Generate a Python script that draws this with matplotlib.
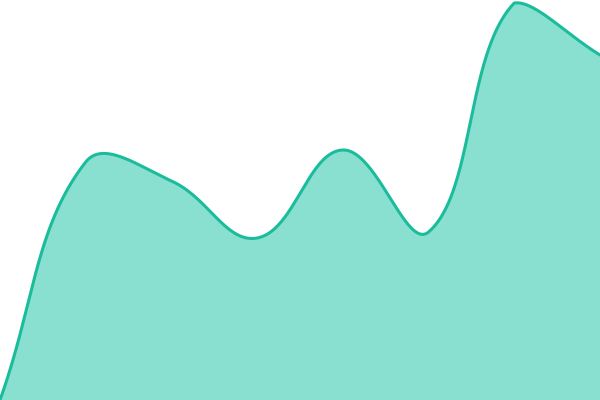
import numpy as np
import matplotlib
matplotlib.use("Agg")
import matplotlib.pyplot as plt

# data
values = [0, 238, 219, 162, 250, 168, 397, 345]
y_max = 400

line_color = "#1abc9c"
fill_color = "#8ae0d0"
tension = 0.4

W, H = 600, 400


def spline_path(vals, t, n=80):
    N = len(vals)
    # work in pixel space so the smoothing matches the rendered aspect
    px = np.array([i * W / (N - 1) for i in range(N)], float)
    py = np.array([v * H / y_max for v in vals], float)
    P = np.stack([px, py], axis=1)
    cp_prev = np.zeros_like(P)
    cp_next = np.zeros_like(P)
    for i in range(N):
        p0 = P[max(i - 1, 0)]
        p1 = P[i]
        p2 = P[min(i + 1, N - 1)]
        d01 = np.hypot(*(p1 - p0))
        d12 = np.hypot(*(p2 - p1))
        s01 = d01 / (d01 + d12) if d01 + d12 else 0
        s12 = d12 / (d01 + d12) if d01 + d12 else 0
        fa = t * s01
        fb = t * s12
        cp_prev[i] = p1 - fa * (p2 - p0)
        cp_next[i] = p1 + fb * (p2 - p0)
    # cap control points to the plotting area
    cp_prev[:, 0] = np.clip(cp_prev[:, 0], 0, W)
    cp_prev[:, 1] = np.clip(cp_prev[:, 1], 0, H)
    cp_next[:, 0] = np.clip(cp_next[:, 0], 0, W)
    cp_next[:, 1] = np.clip(cp_next[:, 1], 0, H)
    xs, ys = [], []
    for i in range(N - 1):
        s = np.linspace(0, 1, n, endpoint=(i == N - 2))[:, None]
        a, b, c, d = P[i], cp_next[i], cp_prev[i + 1], P[i + 1]
        pts = (1 - s) ** 3 * a + 3 * (1 - s) ** 2 * s * b + 3 * (1 - s) * s**2 * c + s**3 * d
        xs.append(pts[:, 0])
        ys.append(pts[:, 1])
    xs = np.concatenate(xs) * (N - 1) / W
    ys = np.concatenate(ys) * y_max / H
    return xs, ys


xs, ys = spline_path(values, tension)

fig = plt.figure(figsize=(6, 4), dpi=100)
ax = fig.add_axes([0, 0, 1, 1])
ax.fill_between(xs, ys, 0, color=fill_color, linewidth=0)
ax.plot(xs, ys, color=line_color, linewidth=2.2, solid_capstyle="round")
ax.set_xlim(0, len(values) - 1)
ax.set_ylim(0, y_max)
ax.axis("off")
fig.savefig("out.png", dpi=100)
